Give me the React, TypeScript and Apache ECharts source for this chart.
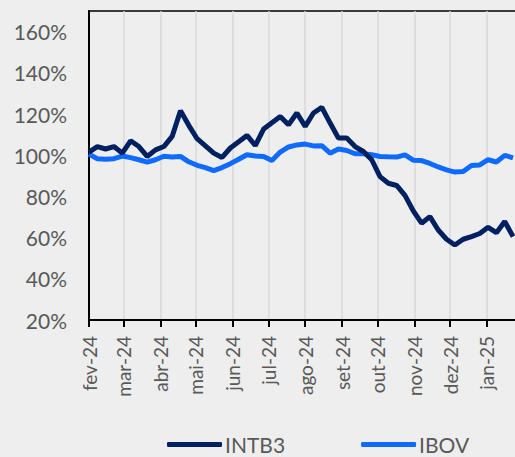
import React, { useEffect, useRef } from "react";
import * as echarts from "echarts";

const dates = [
  "2024-02-01","2024-02-08","2024-02-15","2024-02-22","2024-02-29",
  "2024-03-07","2024-03-14","2024-03-21","2024-03-28",
  "2024-04-04","2024-04-11","2024-04-18","2024-04-25",
  "2024-05-02","2024-05-09","2024-05-16","2024-05-23","2024-05-30",
  "2024-06-06","2024-06-13","2024-06-20","2024-06-27",
  "2024-07-04","2024-07-11","2024-07-18","2024-07-25",
  "2024-08-01","2024-08-08","2024-08-15","2024-08-22","2024-08-29",
  "2024-09-05","2024-09-12","2024-09-19","2024-09-26",
  "2024-10-03","2024-10-10","2024-10-17","2024-10-24","2024-10-31",
  "2024-11-07","2024-11-14","2024-11-21","2024-11-28",
  "2024-12-05","2024-12-12","2024-12-19","2024-12-26",
  "2025-01-02","2025-01-09","2025-01-16","2025-01-23",
];

const intb3 = [
  101.5, 104.2, 103.0, 104.2, 101.0, 107.0, 104.2, 99.4, 102.6, 104.2,
  109.1, 121.6, 114.5, 108.0, 104.5, 101.0, 98.9, 103.5, 106.5, 109.6,
  104.7, 112.7, 115.8, 118.8, 114.8, 120.5, 114.0, 120.5, 123.2, 115.6,
  108.3, 108.3, 104.2, 101.8, 97.8, 89.6, 86.4, 85.3, 80.5, 73.0,
  67.0, 70.2, 63.7, 59.2, 56.4, 59.2, 60.5, 62.0, 65.0, 62.4,
  67.8, 60.5,
];

const ibov = [
  100.5, 98.3, 98.0, 98.3, 99.6, 98.8, 97.8, 96.6, 97.8, 99.5,
  99.1, 99.4, 96.8, 95.1, 94.0, 92.5, 94.0, 95.9, 98.0, 100.2,
  99.6, 99.4, 97.4, 101.5, 104.0, 105.0, 105.4, 104.5, 104.6, 101.0,
  103.0, 102.3, 100.7, 100.7, 100.2, 99.4, 99.2, 99.1, 100.2, 97.6,
  97.4, 96.0, 94.3, 92.9, 91.8, 92.1, 95.0, 95.3, 97.8, 96.7,
  99.9, 98.7,
];

const monthStarts = [
  "2024-02-01","2024-03-01","2024-04-01","2024-05-01","2024-06-01","2024-07-01",
  "2024-08-01","2024-09-01","2024-10-01","2024-11-01","2024-12-01","2025-01-01",
];
const monthLabels = [
  "fev-24","mar-24","abr-24","mai-24","jun-24","jul-24",
  "ago-24","set-24","out-24","nov-24","dez-24","jan-25",
];

const yTicks = [20, 40, 60, 80, 100, 120, 140, 160];

const ts = (s: string) => {
  const [y, m, d] = s.split("-").map(Number);
  return Date.UTC(y, m - 1, d);
};

export default function App() {
  const ref = useRef<HTMLDivElement>(null);
  useEffect(() => {
    if (!ref.current) return;
    const chart = echarts.init(ref.current, null, { renderer: "svg" });
    const monthTs = monthStarts.map(ts);
    const xMin = ts("2024-02-01");
    const xMax = ts("2025-03-01");
    const font = "Lato";
    chart.setOption({
      animation: false,
      backgroundColor: "#eeeeee",
      textStyle: { fontFamily: font },
      grid: {
        left: 89,
        top: 11,
        bottom: 137,
        right: -42,
        outerBoundsMode: "none",
        containLabel: false,
        show: true,
        borderColor: "#000",
        borderWidth: 1.5,
        backgroundColor: "transparent",
      },
      legend: {
        bottom: -3,
        left: 162,
        itemWidth: 55,
        itemHeight: 5,
        itemGap: 76,
        icon: "roundRect",
        textStyle: { fontFamily: font, fontSize: 21, color: "#595959", padding: [0, 0, 0, -2] },
        data: ["INTB3", "IBOV"],
      },
      xAxis: {
        type: "value",
        min: xMin,
        max: xMax,
        axisLine: { show: true, lineStyle: { color: "#000", width: 2 } },
        axisTick: {
          show: true,
          customValues: monthTs,
          length: 7,
          lineStyle: { color: "#000", width: 2 },
        },
        splitLine: { show: true, lineStyle: { color: "#d9d9d9", width: 1.5 } },
        axisLabel: {
          customValues: monthTs,
          rotate: 90,
          margin: 16,
          fontFamily: font,
          fontSize: 19,
          color: "#595959",
          formatter: (v: number) => {
            const i = monthTs.indexOf(v);
            return i >= 0 ? monthLabels[i] : "";
          },
        },
      },
      yAxis: {
        type: "value",
        min: 20,
        max: 170,
        interval: 20,
        axisLine: { show: true, lineStyle: { color: "#000", width: 2 } },
        axisTick: { show: false },
        splitLine: { show: false },
        axisLabel: {
          showMaxLabel: false,
          margin: 22,
          fontFamily: font,
          fontSize: 21,
          color: "#595959",
          formatter: (v: number) => (yTicks.includes(v) ? `${v}%` : ""),
        },
      },
      series: [
        {
          name: "INTB3",
          type: "line",
          data: dates.map((d, i) => [ts(d), intb3[i]]),
          showSymbol: false,
          symbol: "none",
          lineStyle: { color: "#002060", width: 5 },
          itemStyle: { color: "#002060" },
          z: 3,
        },
        {
          name: "IBOV",
          type: "line",
          data: dates.map((d, i) => [ts(d), ibov[i]]),
          showSymbol: false,
          symbol: "none",
          lineStyle: { color: "#0f6bff", width: 5 },
          itemStyle: { color: "#0f6bff" },
          z: 2,
        },
      ],
    });
    return () => chart.dispose();
  }, []);
  return (
    <div
      ref={ref}
      style={{ position: "fixed", left: 0, top: 0, width: 515, height: 457, background: "#eeeeee" }}
    />
  );
}
